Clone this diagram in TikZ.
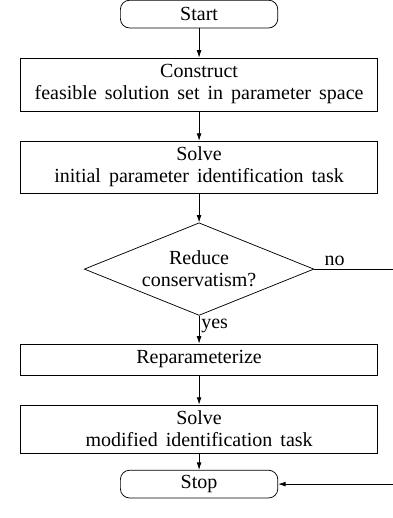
\documentclass[tikz,border=0pt]{standalone}
\usepackage{fontspec}
\setmainfont{Liberation Serif}[WordSpace=1.6]
\usetikzlibrary{shapes.geometric,arrows.meta}

\tikzset{
  process/.style={draw, rectangle, minimum width=193pt, align=center, inner sep=2pt},
  terminal/.style={draw, rectangle, rounded corners=5pt, minimum width=85pt, minimum height=15pt, inner sep=2pt},
  decision/.style={draw, diamond, aspect=2.48, align=center, inner sep=0pt, minimum width=124pt, minimum height=50pt},
  flow/.style={-{Latex[length=4pt,width=2.6pt]}}
}

\begin{document}
\begin{tikzpicture}[x=1pt,y=1pt,font=\fontsize{10.8}{11.9}\selectfont]
\useasboundingbox (0,0) rectangle (212.2,-279.7);

\node[terminal] (start) at (107.5,-7.6) {Start};
\node[process, minimum height=28.6pt] (construct) at (107.5,-45.6) {Construct\\feasible solution set in parameter space};
\node[process, minimum height=28pt] (solveinit) at (107.5,-90.2) {Solve\\initial parameter identification task};
\node[decision] (reduce) at (107.5,-145.3) {Reduce\\conservatism?};
\node[process, minimum height=16.7pt] (reparam) at (107.5,-194.1) {Reparameterize};
\node[process, minimum height=26pt] (solvemod) at (107.5,-231.7) {Solve\\modified identification task};
\node[terminal] (stop) at (107.5,-261.4) {Stop};

\coordinate (noend) at (212.2,-145.3);
\coordinate (back) at (212.2,-261.4);

\draw[flow] (start) -- (construct);
\draw[flow] (construct) -- (solveinit);
\draw[flow] (solveinit) -- (reduce);
\draw[flow] (reduce) -- node[pos=0.38, right, inner sep=1pt] {yes} (reparam);
\draw[flow] (reparam) -- (solvemod);
\draw[flow] (solvemod) -- (stop);
\draw (reduce.east) -- node[pos=0.26, above, inner sep=1.5pt] {no} (noend);
\draw[flow] (back) -- (stop);

\end{tikzpicture}
\end{document}
